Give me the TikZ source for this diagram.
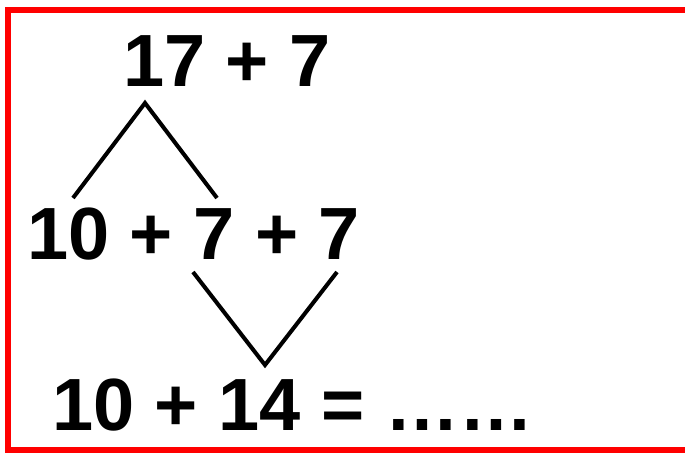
\documentclass[tikz,border=0pt]{standalone}
\usepackage{fontspec}
\setmainfont{Liberation Sans}
\usepackage{tikz}

\begin{document}
\begin{tikzpicture}[x=0.02cm, y=-0.02cm, line width=2.3pt,
  expr/.style={font=\fontsize{42.1pt}{50pt}\selectfont\bfseries, inner sep=0pt, anchor=base west}]
  \useasboundingbox (0,0) rectangle (685,453); % 画布与原图同尺寸，1 单位 = 1 像素

  % ======= 红色边框（右边在画面外） =======
  \draw[red, line width=3.4pt] (690,10) -| (8,450) -- (690,450); % 上、左、下三条边

  % ======= 三行算式 =======
  \node[expr] (top) at (121,86) {17 + 7}; % 原题
  \node[expr] (mid) at (25,259) {10 + 7 + 7}; % 把 17 拆成 10 和 7
  \node[expr] (bot) at (50,430) {10 + 14 = ……}; % 7 + 7 先算成 14

  % ======= 第一个折线：17 拆开 =======
  \coordinate (A1) at (145,103); % 顶点，在 17 下方
  \coordinate (L1) at (73,198); % 指向 10
  \coordinate (R1) at (217,198); % 指向 7
  \draw (L1) -- (A1) -- (R1);

  % ======= 第二个折线：7 + 7 合起来 =======
  \coordinate (L2) at (193,272); % 第一个 7 下方
  \coordinate (R2) at (337,272); % 第二个 7 下方
  \coordinate (A2) at (265,365); % 底点，在 14 上方
  \draw (L2) -- (A2) -- (R2);
\end{tikzpicture}
\end{document}
